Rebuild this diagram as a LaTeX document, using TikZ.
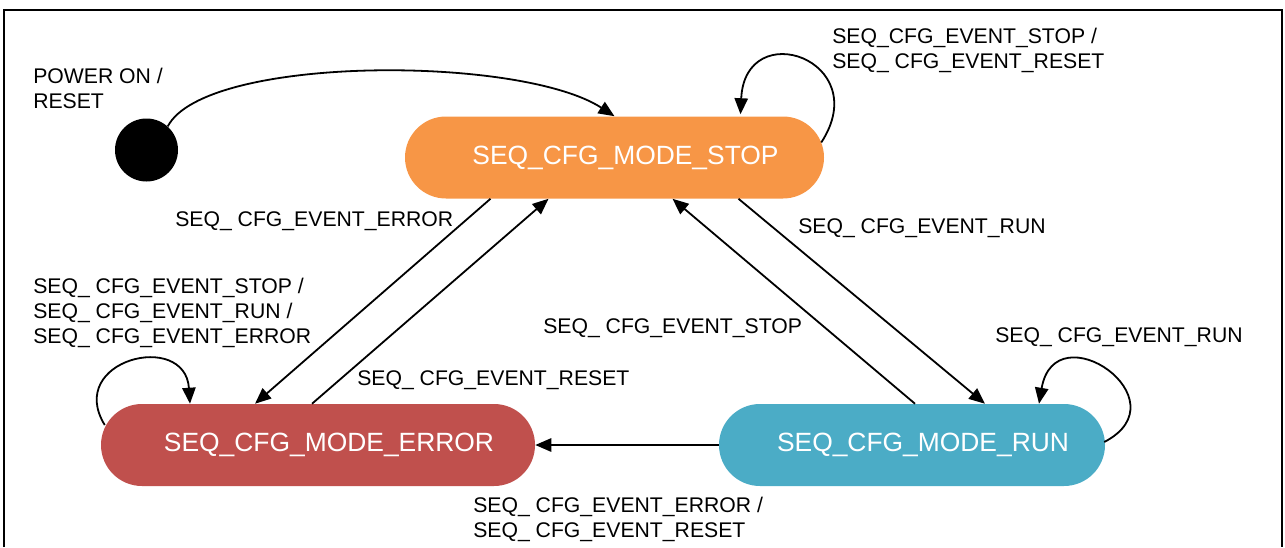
\documentclass[tikz,border=0pt]{standalone}
\usepackage{fontspec}
\setmainfont{Liberation Sans}
\usetikzlibrary{arrows.meta,calc}
\definecolor{stopfill}{HTML}{F79646}
\definecolor{errorfill}{HTML}{C0504D}
\definecolor{runfill}{HTML}{4BACC6}
\begin{document}
\begin{tikzpicture}[x=0.75pt,y=-0.75pt,
  state/.style={rectangle, rounded corners=30.75pt, minimum height=61.5pt,
    inner sep=0pt, text=white, font=\fontsize{19.8pt}{23pt}\selectfont},
  evlabel/.style={inner sep=0pt, anchor=base west, align=left,
    font=\fontsize{15.9pt}{18.75pt}\selectfont},
  trans/.style={line width=1.35pt, -{Triangle[length=12pt,width=10pt]}},
]
\useasboundingbox (0,0) rectangle (1285,547);
% open frame
\draw[line width=1.8pt] (4,547) -- (4,10) -- (1282,10) -- (1282,547);

% states
\node[state, fill=stopfill, minimum width=314.25pt] (stop) at (614.5,157.5)
  {\hspace*{16.5pt}SEQ\_CFG\_MODE\_STOP};
\node[state, fill=errorfill, minimum width=325.5pt] (error) at (318,445)
  {\hspace*{16.5pt}SEQ\_CFG\_MODE\_ERROR};
\node[state, fill=runfill, minimum width=289.5pt] (run) at (912,445)
  {\hspace*{16.5pt}SEQ\_CFG\_MODE\_RUN};
\node[circle, fill=black, minimum size=47.25pt, inner sep=0pt] (init) at (146.5,150) {};

% transitions
\draw[trans] (init.48) .. controls (205,55) and (520,55) .. (stop.north);
\draw[trans] ($(stop.east)+(-3,-15)$) .. controls (875,60) and (745,15) .. ($(stop.north)+(126,-2)$);
\draw[trans] ($(stop.south)+(-124,0)$) -- ($(error.north)+(-63,0)$);
\draw[trans] ($(error.north)+(-6,0)$) -- ($(stop.south)+(-66,0)$);
\draw[trans] ($(run.north)+(3,0)$) -- ($(stop.south)+(58,0)$);
\draw[trans] ($(stop.south)+(124,0)$) -- ($(run.north)+(73,0)$);
\draw[trans] (run) -- (error);
\draw[trans] ($(error.west)+(4,-20)$) .. controls (65,360) and (185,330) .. ($(error.north)+(-128,0)$);
\draw[trans] ($(run.east)+(-1,-3)$) .. controls (1185,400) and (1055,310) .. ($(run.north)+(127,0)$);

% event labels (anchored at the baseline of the last line)
\node[evlabel] (lpower) at (33,108) {POWER ON /\\RESET};
\node[evlabel] (lstopself) at (832,68) {SEQ\_CFG\_EVENT\_STOP /\\SEQ\_ CFG\_EVENT\_RESET};
\node[evlabel] (lerrto) at (175,226) {SEQ\_ CFG\_EVENT\_ERROR};
\node[evlabel] (lrunto) at (798,233) {SEQ\_ CFG\_EVENT\_RUN};
\node[evlabel] (lerrself) at (33,343) {SEQ\_ CFG\_EVENT\_STOP /\\SEQ\_ CFG\_EVENT\_RUN /\\SEQ\_ CFG\_EVENT\_ERROR};
\node[evlabel] (lstopto) at (543,333) {SEQ\_ CFG\_EVENT\_STOP};
\node[evlabel] (lresetto) at (357,385) {SEQ\_ CFG\_EVENT\_RESET};
\node[evlabel] (lrunself) at (995,342) {SEQ\_ CFG\_EVENT\_RUN};
\node[evlabel] (lerrfromrun) at (473,537) {SEQ\_ CFG\_EVENT\_ERROR /\\SEQ\_ CFG\_EVENT\_RESET};
\end{tikzpicture}
\end{document}
